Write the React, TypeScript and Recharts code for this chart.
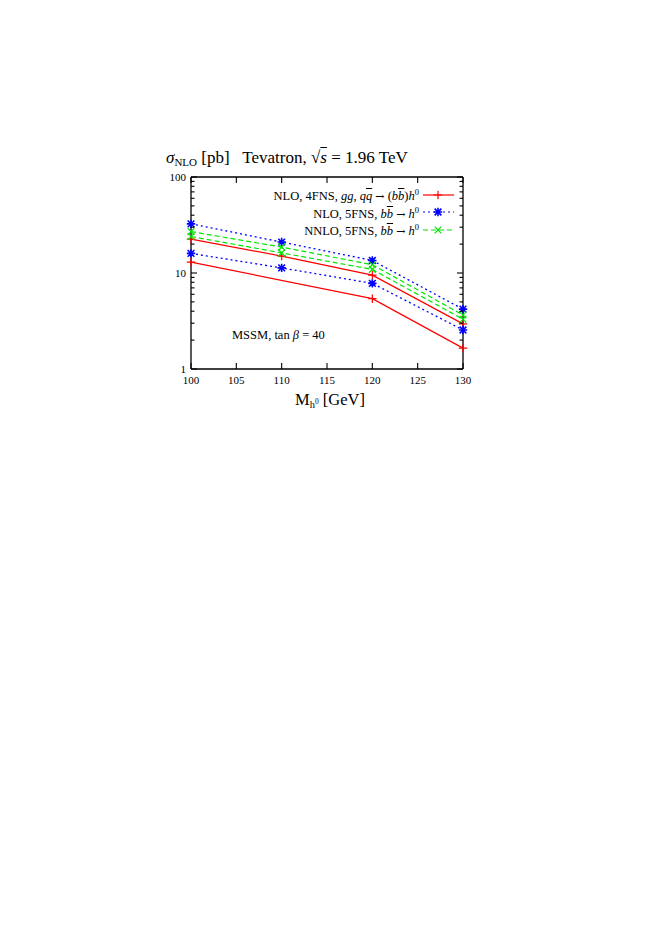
import React from "react";
import { LineChart, Line, XAxis, YAxis, Legend } from "recharts";

// Higgs mass [GeV]
const massValues = [100, 110, 120, 130];
// cross sections [pb], upper / lower edge of each band
const nlo4High = [22.5, 15.0, 9.5, 2.95];
const nlo4Low: (number | null)[] = [13.0, null, 5.4, 1.65];
const nlo5High = [32.5, 21.0, 13.5, 4.2];
const nlo5Low = [16.0, 11.3, 7.8, 2.55];
const nnlo5High = [27.0, 18.6, 12.2, 3.65];
const nnlo5Low = [24.0, 16.2, 10.9, 3.3];

const xTicks = [100, 105, 110, 115, 120, 125, 130];
const yTicks = [1, 2, 3, 4, 5, 6, 7, 8, 9, 10, 20, 30, 40, 50, 60, 70, 80, 90, 100];
const yLabels = [1, 10, 100];

const data = massValues.map((m, i) => ({
  m,
  r1: nlo4High[i],
  r2: nlo4Low[i],
  b1: nlo5High[i],
  b2: nlo5Low[i],
  g1: nnlo5High[i],
  g2: nnlo5Low[i],
}));

const RED = "#ff0000";
const BLUE = "#0000ff";
const GREEN = "#00e600";
const FONT = "'Liberation Serif', 'DejaVu Serif', serif";

// plot frame (page px)
const W = 662;
const H = 936;
const LEFT = 191;
const RIGHT = 463;
const TOP = 177;
const BOTTOM = 369;

const ol = { textDecoration: "overline" } as const;
const arrow = <span style={{ fontFamily: "'DejaVu Serif', serif", fontSize: 11 }}>→</span>;

function marker(kind: string, color: string, cx: number, cy: number, r = 4.2) {
  let d = "";
  if (kind === "plus" || kind === "star") d += `M${cx - r},${cy}H${cx + r}M${cx},${cy - r}V${cy + r}`;
  if (kind === "cross" || kind === "star")
    d += `M${cx - r * 0.8},${cy - r * 0.8}L${cx + r * 0.8},${cy + r * 0.8}M${cx - r * 0.8},${cy + r * 0.8}L${cx + r * 0.8},${cy - r * 0.8}`;
  return <path d={d} stroke={color} strokeWidth={kind === "star" ? 1.6 : 1.2} fill="none" />;
}

const dot = (kind: string, color: string) => (p: any) => {
  const { cx, cy, value, index } = p;
  if (value == null || cx == null || cy == null) return <g key={index} />;
  return <g key={index}>{marker(kind, color, cx, cy)}</g>;
};

function LeftTick({ y, payload }: any) {
  const major = yLabels.includes(payload.value);
  return (
    <g>
      <line x1={LEFT} x2={LEFT + (major ? 6 : 3.5)} y1={y} y2={y} stroke="#000" strokeWidth={1.1} />
      {major && (
        <text x={LEFT - 5} y={y + 4} textAnchor="end" fontSize={11} fontFamily={FONT} fill="#000">
          {payload.value}
        </text>
      )}
    </g>
  );
}

function RightTick({ y, payload }: any) {
  const major = yLabels.includes(payload.value);
  return <line x1={RIGHT} x2={RIGHT - (major ? 6 : 3.5)} y1={y} y2={y} stroke="#000" strokeWidth={1.1} />;
}

function BottomTick({ x, payload }: any) {
  return (
    <g>
      <line x1={x} x2={x} y1={BOTTOM} y2={BOTTOM - 6} stroke="#000" strokeWidth={1.1} />
      <text x={x} y={BOTTOM + 15} textAnchor="middle" fontSize={11} fontFamily={FONT} fill="#000">
        {payload.value}
      </text>
    </g>
  );
}

function TopTick({ x }: any) {
  return <line x1={x} x2={x} y1={TOP} y2={TOP + 6} stroke="#000" strokeWidth={1.1} />;
}

const legendRows = [
  {
    label: (
      <>
        NLO, 4FNS, <i>gg</i>, <i>q</i><i style={ol}>q</i> {arrow} (<i>b</i><i style={ol}>b</i>)<i>h</i><sup style={{ fontSize: 8.5 }}>0</sup>
      </>
    ),
    color: RED,
    dash: undefined,
    kind: "plus",
  },
  {
    label: (
      <>
        NLO, 5FNS, <i>b</i><i style={ol}>b</i> {arrow} <i>h</i><sup style={{ fontSize: 8.5 }}>0</sup>
      </>
    ),
    color: BLUE,
    dash: "2 3",
    kind: "star",
  },
  {
    label: (
      <>
        NNLO, 5FNS, <i>b</i><i style={ol}>b</i> {arrow} <i>h</i><sup style={{ fontSize: 8.5 }}>0</sup>
      </>
    ),
    color: GREEN,
    dash: "5 3",
    kind: "cross",
  },
];

function LegendBox() {
  return (
    <div style={{ fontFamily: FONT, fontSize: 12.5, color: "#000" }}>
      {legendRows.map((r, i) => (
        <div key={i} style={{ display: "flex", justifyContent: "flex-end", alignItems: "center", height: 17.5 }}>
          <span style={{ whiteSpace: "nowrap", lineHeight: "12px" }}>{r.label}</span>
          <svg width={36} height={12} style={{ marginLeft: 2 }}>
            <line x1={2} x2={33} y1={6} y2={6} stroke={r.color} strokeWidth={1.2} strokeDasharray={r.dash} />
            {marker(r.kind, r.color, 17, 6)}
          </svg>
        </div>
      ))}
    </div>
  );
}

export default function App() {
  return (
    <div style={{ position: "absolute", left: 0, top: 0, width: W, height: H, background: "#fff" }}>
      <div
        style={{
          position: "absolute",
          left: 166,
          top: 149,
          fontFamily: FONT,
          fontSize: 17,
          lineHeight: "18px",
          whiteSpace: "nowrap",
        }}
      >
        <i>σ</i>
        <span style={{ fontSize: 11, verticalAlign: -3 }}>NLO</span> [pb]&nbsp;&nbsp;&nbsp;Tevatron, √
        <i style={ol}>s</i> = 1.96 TeV
      </div>

      <LineChart
        width={W}
        height={H}
        data={data}
        margin={{ top: TOP - 1, right: W - RIGHT - 1, left: LEFT - 30, bottom: H - BOTTOM - 30 }}
      >
        <XAxis
          dataKey="m"
          type="number"
          domain={[100, 130]}
          ticks={xTicks}
          height={30}
          axisLine={{ stroke: "#000", strokeWidth: 1.3 }}
          tickLine={false}
          tick={<BottomTick />}
          interval={0}
        />
        <XAxis
          xAxisId="top"
          dataKey="m"
          type="number"
          orientation="top"
          domain={[100, 130]}
          ticks={xTicks}
          height={1}
          axisLine={{ stroke: "#000", strokeWidth: 1.3 }}
          tickLine={false}
          tick={<TopTick />}
          interval={0}
        />
        <YAxis
          scale="log"
          domain={[1, 100]}
          allowDataOverflow
          ticks={yTicks}
          width={30}
          axisLine={{ stroke: "#000", strokeWidth: 1.3 }}
          tickLine={false}
          tick={<LeftTick />}
          interval={0}
        />
        <YAxis
          yAxisId="right"
          orientation="right"
          scale="log"
          domain={[1, 100]}
          allowDataOverflow
          ticks={yTicks}
          width={1}
          axisLine={{ stroke: "#000", strokeWidth: 1.3 }}
          tickLine={false}
          tick={<RightTick />}
          interval={0}
        />
        <Legend
          layout="vertical"
          align="center"
          verticalAlign="middle"
          content={<LegendBox />}
          wrapperStyle={{ left: 0, top: 186, width: 457 }}
        />
        <Line dataKey="r1" stroke={RED} strokeWidth={1.2} dot={dot("plus", RED)} isAnimationActive={false} legendType="none" />
        <Line dataKey="r2" stroke={RED} strokeWidth={1.2} dot={dot("plus", RED)} connectNulls isAnimationActive={false} legendType="none" />
        <Line dataKey="b1" stroke={BLUE} strokeWidth={1.3} strokeDasharray="2 3" dot={dot("star", BLUE)} isAnimationActive={false} legendType="none" />
        <Line dataKey="b2" stroke={BLUE} strokeWidth={1.3} strokeDasharray="2 3" dot={dot("star", BLUE)} isAnimationActive={false} legendType="none" />
        <Line dataKey="g1" stroke={GREEN} strokeWidth={1.2} strokeDasharray="5 3" dot={dot("cross", GREEN)} isAnimationActive={false} legendType="none" />
        <Line dataKey="g2" stroke={GREEN} strokeWidth={1.2} strokeDasharray="5 3" dot={dot("cross", GREEN)} isAnimationActive={false} legendType="none" />
      </LineChart>

      <div
        style={{
          position: "absolute",
          left: 232,
          top: 328,
          fontFamily: FONT,
          fontSize: 12.5,
          whiteSpace: "nowrap",
        }}
      >
        MSSM, tan <i>β</i> = 40
      </div>

      <div
        style={{
          position: "absolute",
          left: 295,
          top: 390,
          fontFamily: FONT,
          fontSize: 16.5,
          whiteSpace: "nowrap",
        }}
      >
        M
        <span style={{ fontSize: 10.5, verticalAlign: -3 }}>
          h<sup style={{ fontSize: 7.5 }}>0</sup>
        </span>{" "}
        [GeV]
      </div>
    </div>
  );
}
